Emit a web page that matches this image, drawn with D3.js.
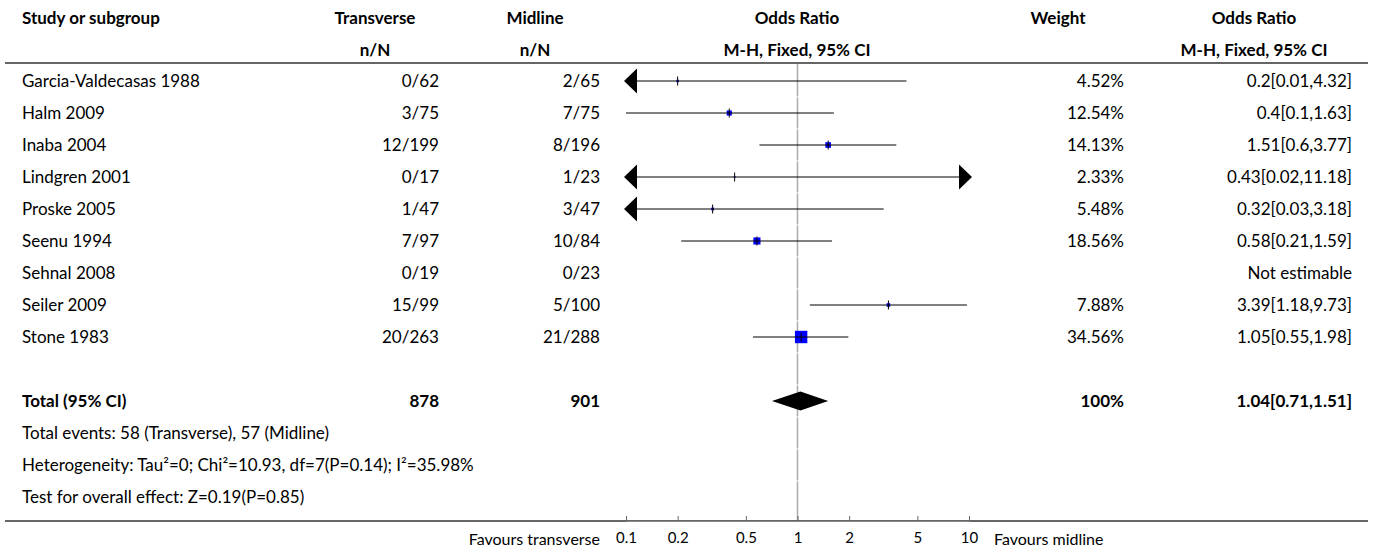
<!DOCTYPE html>
<html>
<head>
<meta charset="utf-8">
<script src="https://cdn.jsdelivr.net/npm/d3@7"></script>
<style>
  body { margin: 0; background: #fff; }
  svg text { font-family: Lato, "Noto Sans", sans-serif; font-size: 17px; fill: #000; }
  .bold { font-weight: bold; }
  .axis text { font-family: "Liberation Sans Narrow", Lato, sans-serif; font-size: 15px; }
  .fav { font-size: 16px; }
</style>
</head>
<body>
<div id="plot"></div>
<script>
// study rows
var studies    = ["Garcia-Valdecasas 1988", "Halm 2009", "Inaba 2004", "Lindgren 2001", "Proske 2005",
                  "Seenu 1994", "Sehnal 2008", "Seiler 2009", "Stone 1983"];
var transverse = ["0/62", "3/75", "12/199", "0/17", "1/47", "7/97", "0/19", "15/99", "20/263"];
var midline    = ["2/65", "7/75", "8/196", "1/23", "3/47", "10/84", "0/23", "5/100", "21/288"];
var weights    = [4.52, 12.54, 14.13, 2.33, 5.48, 18.56, null, 7.88, 34.56];
var oddsRatio  = [0.2, 0.4, 1.51, 0.43, 0.32, 0.58, null, 3.39, 1.05];
var ciLow      = [0.01, 0.1, 0.6, 0.02, 0.03, 0.21, null, 1.18, 0.55];
var ciHigh     = [4.32, 1.63, 3.77, 11.18, 3.18, 1.59, null, 9.73, 1.98];
var orLabels   = ["0.2[0.01,4.32]", "0.4[0.1,1.63]", "1.51[0.6,3.77]", "0.43[0.02,11.18]", "0.32[0.03,3.18]",
                  "0.58[0.21,1.59]", "Not estimable", "3.39[1.18,9.73]", "1.05[0.55,1.98]"];

// pooled result
var total = {label: "Total (95% CI)", transverse: "878", midline: "901", weight: "100%",
             or: 1.04, lo: 0.71, hi: 1.51, text: "1.04[0.71,1.51]"};
var footnotes = ["Total events: 58 (Transverse), 57 (Midline)",
                 "Heterogeneity: Tau\u00b2=0; Chi\u00b2=10.93, df=7(P=0.14); I\u00b2=35.98%",
                 "Test for overall effect: Z=0.19(P=0.85)"];

var tickValues = [0.1, 0.2, 0.5, 1, 2, 5, 10];
var favours = ["Favours transverse", "Favours midline"];

var width = 1375, height = 549;
var rowH = 32, firstRow = 81;
var col = {study: 22, trans: 439, transH: 375, mid: 600, midH: 535, plotH: 797,
           weight: 1124, weightH: 1058, or: 1352, orH: 1254};

var svg = d3.select("#plot").append("svg")
    .attr("width", width)
    .attr("height", height);

var x = d3.scaleLog().domain([0.1, 10]).range([626, 969]);
function rowY(i) { return firstRow + i * rowH; }

// header
var head1 = [["Study or subgroup", col.study, "start"], ["Transverse", col.transH, "middle"],
             ["Midline", col.midH, "middle"], ["Odds Ratio", col.plotH, "middle"],
             ["Weight", col.weightH, "middle"], ["Odds Ratio", col.orH, "middle"]];
var head2 = [["n/N", col.transH], ["n/N", col.midH], ["M-H, Fixed, 95% CI", col.plotH], ["M-H, Fixed, 95% CI", col.orH]];

svg.selectAll(".h1").data(head1).enter().append("text")
    .attr("class", "bold")
    .attr("x", function (d) { return d[1]; })
    .attr("y", 18)
    .attr("dy", "0.35em")
    .attr("text-anchor", function (d) { return d[2]; })
    .text(function (d) { return d[0]; });

svg.selectAll(".h2").data(head2).enter().append("text")
    .attr("class", "bold")
    .attr("x", function (d) { return d[1]; })
    .attr("y", 50)
    .attr("dy", "0.35em")
    .attr("text-anchor", "middle")
    .text(function (d) { return d[0]; });

var lastRow = 13;
var bottomY = rowY(lastRow) + 24;

// reference line at 1, in short segments per row
var segs = d3.range(0, lastRow + 1);
svg.selectAll(".ref").data(segs).enter().append("line")
    .attr("x1", x(1)).attr("x2", x(1))
    .attr("y1", function (d) { return d == 0 ? 64 : rowY(d) - rowH / 2 + 0.5; })
    .attr("y2", function (d) { return d == lastRow ? bottomY : rowY(d) + rowH / 2 - 0.5; })
    .attr("stroke", "#aaa")
    .attr("stroke-width", 1.5);

// horizontal rules
svg.append("line").attr("x1", 5).attr("x2", 1368).attr("y1", 63).attr("y2", 63)
    .attr("stroke", "#333").attr("stroke-width", 1.5);
svg.append("line").attr("x1", 5).attr("x2", 1368).attr("y1", bottomY).attr("y2", bottomY)
    .attr("stroke", "#333").attr("stroke-width", 1.5);

// study text columns
var rows = svg.selectAll(".row").data(studies).enter().append("g")
    .attr("transform", function (d, i) { return "translate(0," + rowY(i) + ")"; });

rows.append("text").attr("x", col.study).attr("dy", "0.35em").text(function (d) { return d; });
rows.append("text").attr("x", col.trans).attr("dy", "0.35em").attr("text-anchor", "end")
    .text(function (d, i) { return transverse[i]; });
rows.append("text").attr("x", col.mid).attr("dy", "0.35em").attr("text-anchor", "end")
    .text(function (d, i) { return midline[i]; });
rows.append("text").attr("x", col.weight).attr("dy", "0.35em").attr("text-anchor", "end")
    .text(function (d, i) { return weights[i] == null ? "" : weights[i].toFixed(2) + "%"; });
rows.append("text").attr("x", col.or).attr("dy", "0.35em").attr("text-anchor", "end")
    .text(function (d, i) { return orLabels[i]; });

// forest marks
var x0 = x.range()[0], x1 = x.range()[1];
var arrowW = 13, arrowH = 12.5;
rows.each(function (d, i) {
  if (oddsRatio[i] == null) return;
  var g = d3.select(this);
  var s = 1 + weights[i] * 0.33;  // box size grows with weight
  var lo = ciLow[i] < 0.1 ? x0 - 2 + arrowW : x(ciLow[i]);
  var hi = ciHigh[i] > 10 ? x1 + 3 - arrowW : x(ciHigh[i]);
  g.append("rect")
      .attr("x", x(oddsRatio[i]) - s / 2).attr("y", -s / 2)
      .attr("width", s).attr("height", s)
      .attr("fill", "#0000ff");
  g.append("line").attr("x1", lo).attr("x2", hi).attr("y1", 0).attr("y2", 0)
      .attr("stroke", "#000").attr("stroke-width", 1);
  g.append("line").attr("x1", x(oddsRatio[i])).attr("x2", x(oddsRatio[i])).attr("y1", -4.5).attr("y2", 4.5)
      .attr("stroke", "#000").attr("stroke-width", 1);
  if (ciLow[i] < 0.1) {
    g.append("path").attr("d", "M" + (x0 - 2) + ",0L" + (x0 - 2 + arrowW) + "," + (-arrowH) + "L" + (x0 - 2 + arrowW) + "," + arrowH + "Z")
        .attr("fill", "#000");
  }
  if (ciHigh[i] > 10) {
    g.append("path").attr("d", "M" + (x1 + 3) + ",0L" + (x1 + 3 - arrowW) + "," + (-arrowH) + "L" + (x1 + 3 - arrowW) + "," + arrowH + "Z")
        .attr("fill", "#000");
  }
});

// total row
var ty = rowY(10);
var totalCells = [[total.label, col.study, "start"], [total.transverse, col.trans, "end"],
                  [total.midline, col.mid, "end"], [total.weight, col.weight, "end"], [total.text, col.or, "end"]];
svg.selectAll(".tot").data(totalCells).enter().append("text")
    .attr("class", "bold")
    .attr("x", function (d) { return d[1]; })
    .attr("y", ty).attr("dy", "0.35em")
    .attr("text-anchor", function (d) { return d[2]; })
    .text(function (d) { return d[0]; });

svg.append("path")
    .attr("d", "M" + x(total.lo) + "," + ty + "L" + x(total.or) + "," + (ty - 9.5) +
               "L" + x(total.hi) + "," + ty + "L" + x(total.or) + "," + (ty + 9.5) + "Z")
    .attr("fill", "#000");

svg.selectAll(".foot").data(footnotes).enter().append("text")
    .attr("x", col.study)
    .attr("y", function (d, i) { return rowY(11 + i); })
    .attr("dy", "0.35em")
    .text(function (d) { return d; });

// log axis
var axis = svg.append("g").attr("class", "axis")
    .attr("transform", "translate(0," + bottomY + ")")
    .call(d3.axisTop(x).tickValues(tickValues).tickSize(5).tickFormat(d3.format("")));
axis.select(".domain").attr("stroke", "#888");
axis.selectAll(".tick line").attr("stroke", "#666");
axis.selectAll(".tick text").attr("y", 17).attr("dy", "0.35em").attr("fill", "#000");

svg.append("text").attr("class", "fav").attr("x", 600).attr("y", bottomY + 18).attr("dy", "0.35em")
    .attr("text-anchor", "end").text(favours[0]);
svg.append("text").attr("class", "fav").attr("x", 994).attr("y", bottomY + 18).attr("dy", "0.35em")
    .text(favours[1]);
</script>
</body>
</html>
